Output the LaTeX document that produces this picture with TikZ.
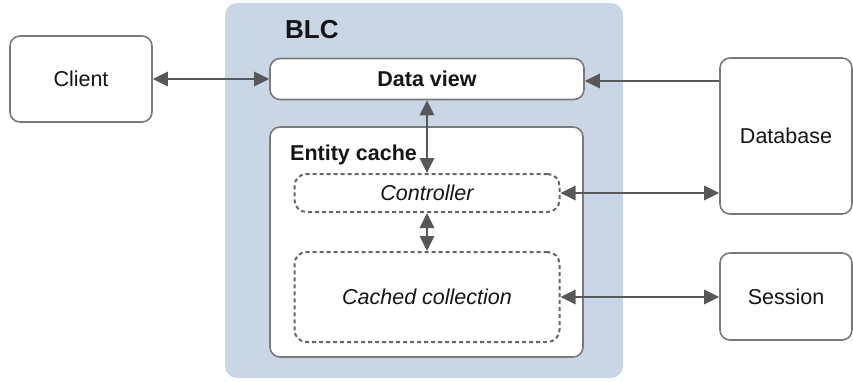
\documentclass[tikz,border=0pt]{standalone}
\usepackage{fontspec}
\setmainfont{Liberation Sans}
\usetikzlibrary{arrows.meta}
\definecolor{blcfill}{HTML}{C9D6E5}
\definecolor{boxline}{HTML}{7A7A7A}
\definecolor{arrowcol}{HTML}{585858}
\definecolor{dashcol}{HTML}{666666}
\definecolor{txt}{HTML}{151515}
\tikzset{
  x=1pt, y=-1pt,
  every node/.style={text=txt, font=\fontsize{21.5}{25}\selectfont, inner sep=0pt},
  solidbox/.style={draw=boxline, line width=1.6pt, fill=white, rounded corners=10pt},
  dashbox/.style={draw=dashcol, line width=2pt, dash pattern=on 4pt off 3pt, rounded corners=12pt},
  link/.style={draw=arrowcol, line width=2.8pt, {Triangle[length=15pt,width=14pt]}-{Triangle[length=15pt,width=14pt]}},
  onelink/.style={draw=arrowcol, line width=2.8pt, -{Triangle[length=15pt,width=14pt]}},
}
\begin{document}
\begin{tikzpicture}
\useasboundingbox (0,0) rectangle (853,381);
% BLC background panel
\fill[blcfill, rounded corners=12pt] (225,3) rectangle (623,378);
\node[anchor=base west, font=\fontsize{26}{30}\selectfont\bfseries] (blc) at (285,38) {BLC};

% outer participants
\node[solidbox, minimum width=142pt, minimum height=86pt] (client) at (81,79) {Client};
\node[solidbox, minimum width=132pt, minimum height=156pt] (db) at (786,136) {Database};
\node[solidbox, minimum width=132pt, minimum height=87pt] (session) at (786,296.5) {Session};

% data view
\node[solidbox, minimum width=314pt, minimum height=41pt, font=\fontsize{21.5}{25}\selectfont\bfseries] (dv) at (427,79) {Data view};

% entity cache container
\node[solidbox, minimum width=313pt, minimum height=230pt] (ec) at (426.5,242) {};
\node[anchor=base west, font=\fontsize{21.5}{25}\selectfont\bfseries] (eclabel) at (290,160) {Entity cache};

% inner dashed parts
\node[dashbox, minimum width=265pt, minimum height=38pt, font=\fontsize{21.5}{25}\selectfont\itshape] (ctrl) at (427,193) {Controller};
\node[dashbox, minimum width=265pt, minimum height=90pt, font=\fontsize{21.5}{25}\selectfont\itshape] (coll) at (427,297) {Cached collection};

% connectors
\draw[link] (client.east) -- (dv.west);
\draw[onelink] ([yshift=-2pt]dv.east -| db.west) -- ([yshift=-2pt]dv.east);
\draw[link] (dv.south) -- (ctrl.north);
\draw[link] (ctrl.south) -- (coll.north);
\draw[link] (ctrl.east) -- (ctrl.east -| db.west);
\draw[link] (coll.east) -- (coll.east -| session.west);
\end{tikzpicture}
\end{document}
